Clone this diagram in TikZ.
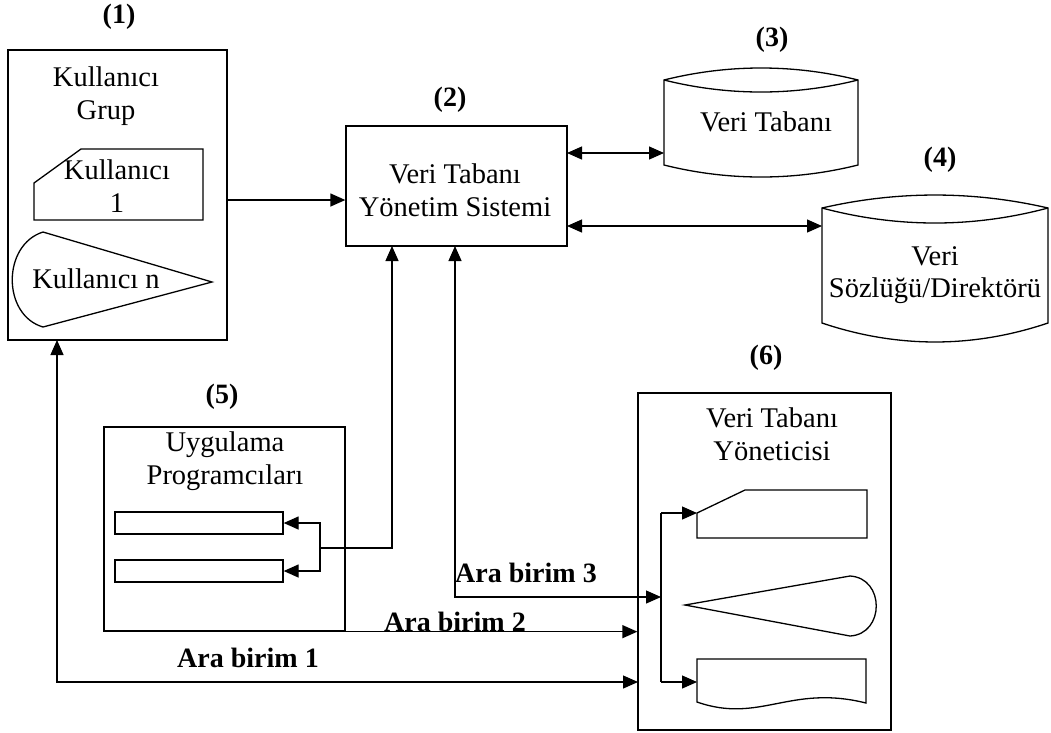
\documentclass[tikz,border=0pt]{standalone}
\usepackage{fontspec}
\setmainfont{Liberation Serif}
\usetikzlibrary{arrows.meta}
\begin{document}
\begin{tikzpicture}[x=1pt,y=-1pt, line width=1.3pt,
  txt/.style={font=\fontsize{28.5}{32.5}\selectfont, align=center, inner sep=0pt},
  lbl/.style={font=\fontsize{28}{32}\selectfont\bfseries, inner sep=0pt},
  box/.style={draw, rectangle, inner sep=0pt},
  arr/.style={-{Triangle[length=15pt,width=13pt]}},
  darr/.style={{Triangle[length=15pt,width=13pt]}-{Triangle[length=15pt,width=13pt]}}]
\useasboundingbox (0,0) rectangle (1051,732);

% ---------- boxes ----------
\node[box, minimum width=219pt, minimum height=290pt] (b1) at (117.5,195) {};
\node[box, minimum width=221pt, minimum height=120pt] (b2) at (456.5,186) {};
\node[box, minimum width=241pt, minimum height=204pt] (b5) at (224.5,529) {};
\node[box, minimum width=253pt, minimum height=337pt] (b6) at (764.5,561.5) {};
\node[box, minimum width=168pt, minimum height=22pt] (r1) at (199,523) {};
\node[box, minimum width=168pt, minimum height=22pt] (r2) at (199,571) {};

% ---------- numbers ----------
\node[lbl] (n1) at (119,17) {(1)};
\node[lbl] (n2) at (450,100) {(2)};
\node[lbl] (n3) at (772,40) {(3)};
\node[lbl] (n4) at (940,160) {(4)};
\node[lbl] (n5) at (222,397) {(5)};
\node[lbl] (n6) at (766,358) {(6)};

% ---------- texts ----------
\node[txt] (t1) at (106,96) {Kullanıcı\\Grup};
\node[txt] (t2) at (455,190) {Veri Tabanı\\Yönetim Sistemi};
\node[txt] (t3) at (766,122) {Veri Tabanı};
\node[txt] (t4) at (935,275) {Veri\\Sözlüğü/Direktörü};
\node[txt] (t5) at (225,461) {Uygulama\\Programcıları};
\node[txt] (t6) at (772,434) {Veri Tabanı\\Yöneticisi};

% ---------- user shapes in (1) ----------
\draw (34,183) -- (81,149) -- (203,149) -- (203,220) -- (34,220) -- cycle;
\node[txt] (k1) at (117,186) {Kullanıcı\\1};
\draw (43,232) -- (212,282) -- (43,327) .. controls (2,315) and (2,245) .. (43,232) -- cycle;
\node[txt] (kn) at (96,279) {Kullanıcı n};

% ---------- cylinders ----------
\draw (664,80) .. controls (728,64) and (794,64) .. (858,80)
      -- (858,165) .. controls (794,181) and (728,181) .. (664,165) -- cycle;
\draw (664,80) .. controls (728,96) and (794,96) .. (858,80);
\coordinate (c3in) at (664,153);

\draw (822,208) .. controls (897,190.7) and (973,190.7) .. (1048,208)
      -- (1048,323) .. controls (973,348.3) and (897,348.3) .. (822,323) -- cycle;
\draw (822,208) .. controls (897,228) and (973,228) .. (1048,208);
\coordinate (c4in) at (822,226);

% ---------- shapes in (6) ----------
\draw (697,513) -- (745,490) -- (867,490) -- (867,538) -- (697,538) -- cycle;
\coordinate (s1in) at (697,513);
\draw (685,605) -- (850,576) .. controls (885,578) and (885,634) .. (850,636) -- cycle;
\draw (697,659) -- (866,659) -- (866,703) .. controls (790,684) and (760,724) .. (697,702) -- cycle;
\coordinate (s3in) at (697,682);

% ---------- connectors ----------
\coordinate (p1) at (227,200);
\draw[arr] (p1) -- (p1 -| b2.west);
\coordinate (p2) at (567,153);
\draw[darr] (p2) -- (c3in);
\coordinate (p3) at (567,226);
\draw[darr] (p3) -- (c4in);

\coordinate (j5) at (320,548);
\coordinate (b2in1) at (392,246);
\draw[arr] (j5) -- (j5 |- r1.east) -- (r1.east);
\draw[arr] (j5) -- (j5 |- r2.east) -- (r2.east);
\draw[arr] (j5) -- (j5 -| b2in1) -- (b2in1);

\coordinate (b2in2) at (455,246);
\coordinate (j6) at (661,597);
\draw[darr] (b2in2) -- (b2in2 |- j6) -- (j6);
\node[lbl] (a3) at (526,573) {Ara birim 3};

\draw[arr] (b5.south east) -- (b5.south east -| b6.west);
\node[lbl] (a2) at (455,622) {Ara birim 2};

\coordinate (b1in) at (57,340);
\coordinate (a1end) at (638,682);
\draw[darr] (b1in) -- (b1in |- a1end) -- (a1end);
\node[lbl] (a1) at (248,658) {Ara birim 1};

\coordinate (j6t) at (661,513);
\coordinate (j6b) at (661,682);
\draw (j6t) -- (j6b);
\draw[arr] (j6t) -- (s1in);
\draw[arr] (j6b) -- (s3in);
\end{tikzpicture}
\end{document}
